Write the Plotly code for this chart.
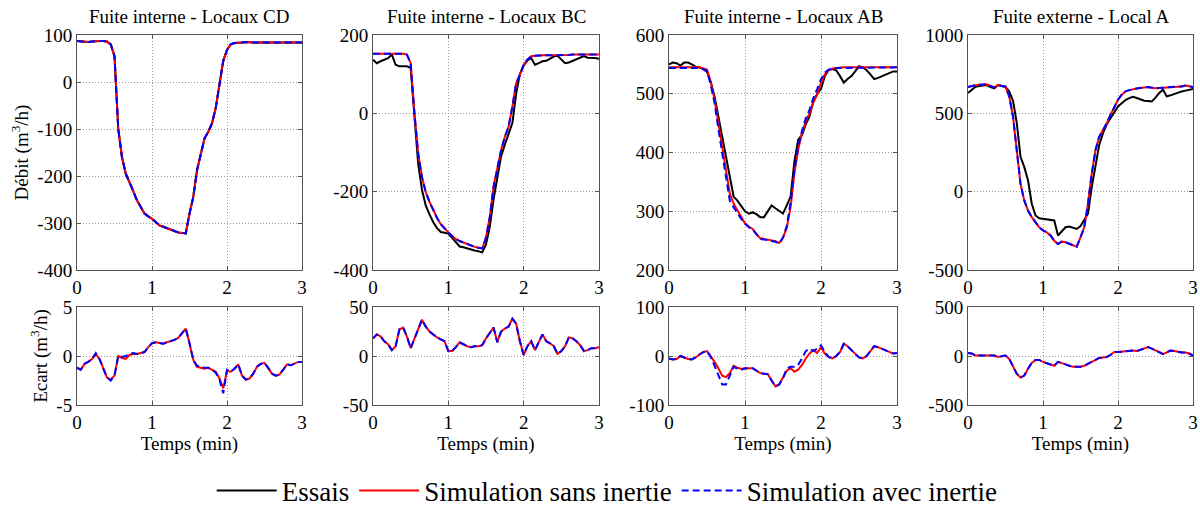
import plotly.graph_objects as go

# temps (min), pas de 0.05
temps = [0.0, 0.05, 0.1, 0.15, 0.2, 0.25, 0.3, 0.35, 0.4, 0.45, 0.5, 0.55, 0.6, 0.65, 0.7, 0.75,
         0.8, 0.85, 0.9, 0.95, 1.0, 1.05, 1.1, 1.15, 1.2, 1.25, 1.3, 1.35, 1.4, 1.45, 1.5, 1.55,
         1.6, 1.65, 1.7, 1.75, 1.8, 1.85, 1.9, 1.95, 2.0, 2.05, 2.1, 2.15, 2.2, 2.25, 2.3, 2.35,
         2.4, 2.45, 2.5, 2.55, 2.6, 2.65, 2.7, 2.75, 2.8, 2.85, 2.9, 2.95, 3.0]

## Fuite interne - Locaux CD (essais et simulations confondus)
cd_essais = [87, 86, 85, 85, 86, 87, 87, 87, 86, 80, 55, -100, -160, -195, -212, -232,
             -252, -266, -280, -286, -291, -298, -305, -308, -311, -314, -318, -320, -321, -322, -280, -245,
             -188, -152, -120, -106, -88, -55, -5, 45, 68, 80, 83, 83, 84, 85, 84, 84,
             84, 84, 85, 84, 84, 85, 85, 85, 85, 84, 84, 84, 84]
cd_sans = cd_essais
cd_avec = cd_essais

## Fuite interne - Locaux BC
bc_essais = [137, 128, 133, 137, 141, 150, 124, 120, 120, 120, 116, -10, -130, -195, -235, -258,
             -278, -293, -303, -305, -307, -318, -330, -340, -342, -345, -347, -350, -352, -355, -335, -290,
             -220, -160, -110, -80, -55, -25, 50, 100, 122, 135, 141, 124, 128, 133, 134, 140,
             145, 147, 138, 128, 130, 134, 137, 142, 146, 142, 142, 141, 139]
bc_sans = [152, 152, 152, 152, 152, 153, 153, 152, 152, 150, 128, 0, -103, -163, -201, -226,
           -248, -267, -283, -295, -304, -313, -321, -326, -330, -334, -338, -341, -343, -345, -317, -265,
           -188, -137, -94, -60, -34, 17, 77, 98, 124, 137, 146, 147, 148, 148, 148, 148,
           149, 149, 149, 149, 149, 150, 150, 150, 150, 150, 150, 150, 150]
bc_avec = bc_sans

## Fuite interne - Locaux AB
ab_essais = [550, 553, 552, 548, 553, 553, 550, 546, 545, 542, 537, 520, 495, 460, 430, 395,
             360, 325, 318, 308, 300, 296, 298, 295, 290, 290, 300, 310, 305, 300, 296, 310,
             325, 385, 422, 430, 448, 462, 488, 500, 508, 530, 540, 542, 540, 530, 519, 525,
             530, 538, 547, 545, 540, 533, 525, 527, 530, 533, 535, 538, 538]
ab_sans = [545, 545, 545, 545, 546, 546, 546, 545, 545, 543, 541, 519, 490, 450, 410, 365,
           330, 313, 302, 290, 279, 274, 270, 261, 254, 253, 252, 251, 249, 246, 255, 272,
           307, 365, 405, 433, 453, 467, 485, 499, 519, 533, 540, 543, 544, 545, 545, 545,
           545, 545, 545, 545, 545, 545, 545, 545, 545, 545, 545, 545, 545]
ab_avec = [544, 544, 544, 545, 545, 545, 545, 544, 544, 542, 539, 515, 484, 440, 398, 353,
           318, 307, 296, 287, 279, 273, 269, 261, 253, 252, 251, 250, 248, 245, 255, 275,
           315, 370, 410, 437, 458, 473, 493, 508, 525, 536, 541, 543, 544, 544, 544, 544,
           544, 544, 544, 544, 544, 544, 545, 545, 545, 545, 545, 545, 545]

## Fuite externe - Local A
a_essais = [630, 650, 670, 675, 678, 680, 668, 660, 680, 675, 668, 640, 580, 440, 223, 158,
            73, -77, -152, -170, -173, -178, -180, -184, -280, -250, -227, -222, -232, -238, -220, -184,
            -141, 30, 180, 300, 373, 430, 469, 505, 544, 565, 585, 597, 605, 598, 587, 580,
            578, 576, 600, 630, 651, 608, 615, 625, 632, 640, 645, 650, 655]
a_sans = [668, 675, 680, 682, 683, 685, 675, 665, 680, 675, 670, 608, 480, 266, 51, -56,
          -120, -163, -195, -227, -248, -259, -280, -313, -334, -319, -323, -334, -345, -351, -291, -227,
          -77, 116, 266, 351, 394, 437, 490, 544, 587, 619, 640, 648, 655, 659, 662, 665,
          668, 664, 660, 662, 664, 666, 667, 668, 668, 672, 677, 672, 668]
a_avec = a_sans

## Ecarts
cd_ecart_sans = [-1.2, -1.4, -0.8, -0.6, -0.3, 0.2, -0.3, -1.2, -2.2, -2.4, -2.0, 0.0, -0.2, -0.3, 0.1, 0.2,
                 0.2, 0.3, 0.4, 0.9, 1.3, 1.4, 1.35, 1.25, 1.4, 1.5, 1.65, 1.85, 2.3, 2.8, 1.3, -0.4,
                 -1.1, -1.2, -1.3, -1.2, -1.4, -1.6, -2.3, -3.3, -1.5, -1.6, -1.3, -0.85, -2.0, -2.4, -2.3, -1.8,
                 -1.1, -0.8, -0.7, -1.2, -1.8, -2.0, -1.9, -1.4, -0.85, -0.95, -0.8, -0.6, -0.6]
cd_ecart_avec = [-1.2, -1.4, -0.8, -0.6, -0.3, 0.3, -0.3, -1.2, -2.2, -2.5, -2.0, 0.0, -0.1, 0.0, 0.2, 0.3,
                 0.2, 0.3, 0.4, 0.9, 1.3, 1.4, 1.35, 1.25, 1.4, 1.5, 1.65, 1.85, 2.3, 2.8, 1.3, -0.4,
                 -1.0, -1.1, -1.2, -1.2, -1.4, -1.7, -2.4, -3.8, -1.4, -1.6, -1.3, -0.85, -2.0, -2.4, -2.3, -1.8,
                 -1.1, -0.8, -0.7, -1.2, -1.8, -2.0, -1.9, -1.4, -0.85, -0.95, -0.8, -0.6, -0.6]
bc_ecart = [18, 22, 20, 15, 12, 6, 10, 27, 29, 20, 8, 18, 28, 37, 30, 25,
            22, 19, 17, 15, 5, 5, 9, 14, 12, 10, 9, 10, 10, 11, 18, 24,
            29, 14, 25, 28, 30, 38, 33, 15, 1, 10, 15, 6, 14, 22, 15, 13,
            10, 2, 5, 10, 19, 18, 15, 11, 5, 6, 8, 8, 9]
ab_ecart_sans = [-5, -7, -6, 0, -3, -6, -7, -3, 3, 8, 10, 0, -12, -25, -40, -43,
                 -35, -20, -24, -26, -25, -25, -25, -30, -35, -36, -37, -50, -62, -58, -45, -30,
                 -25, -32, -28, -18, -5, 5, 12, 6, 18, 5, -2, -5, 0, 8, 25, 20,
                 12, 5, -3, -5, 0, 10, 20, 18, 15, 12, 8, 5, 6]
ab_ecart_avec = [-5, -7, -6, 0, -3, -6, -7, -3, 3, 8, 10, -2, -20, -40, -58, -58,
                 -40, -22, -26, -28, -25, -25, -25, -30, -35, -36, -37, -50, -62, -58, -45, -25,
                 -22, -22, -18, -5, 10, 15, 10, 15, 22, 8, -2, -5, 0, 8, 25, 20,
                 12, 5, -3, -5, 0, 10, 20, 18, 15, 12, 8, 5, 6]
a_ecart = [30, 25, 5, 5, 5, 10, 10, 5, -10, 0, 5, -30, -100, -180, -220, -200,
           -130, -70, -40, -40, -60, -75, -85, -100, -60, -70, -85, -100, -110, -110, -110, -100,
           -80, -60, -45, -20, -15, -10, 10, 40, 40, 45, 50, 55, 55, 50, 65, 80,
           90, 75, 60, 40, 20, 40, 55, 50, 40, 35, 35, 25, 5]

titres = ['Fuite interne - Locaux CD', 'Fuite interne - Locaux BC',
          'Fuite interne - Locaux AB', 'Fuite externe - Local A']

# graduations (tirets ASCII comme dans la figure d'origine)
x_ticks = [0, 1, 2, 3]
ticks_haut = [[-400, -300, -200, -100, 0, 100],
              [-400, -200, 0, 200],
              [200, 300, 400, 500, 600],
              [-500, 0, 500, 1000]]
ticks_bas = [[-5, 0, 5], [-50, 0, 50], [-100, 0, 100], [-500, 0, 500]]

haut = [(cd_essais, cd_sans, cd_avec), (bc_essais, bc_sans, bc_avec),
        (ab_essais, ab_sans, ab_avec), (a_essais, a_sans, a_avec)]
bas = [(cd_ecart_sans, cd_ecart_avec), (bc_ecart, bc_ecart),
       (ab_ecart_sans, ab_ecart_avec), (a_ecart, a_ecart)]

W, H = 1200, 506
cols_px = [(77, 302), (373, 599), (669, 897), (968, 1193)]
haut_px = (35, 270)
bas_px = (307, 405)

police = 'Liberation Serif'
tirets = '7px,4px'
fig = go.Figure()

for i in range(4):
    sfx = '' if i == 0 else str(i + 1)
    xa, ya = 'x' + sfx, 'y' + sfx
    xb, yb = 'x' + str(i + 5), 'y' + str(i + 5)
    ess, sans, avec = haut[i]
    fig.add_trace(go.Scatter(x=temps, y=ess, mode='lines', line=dict(color='black', width=2),
                             name='Essais', showlegend=(i == 0), xaxis=xa, yaxis=ya))
    fig.add_trace(go.Scatter(x=temps, y=sans, mode='lines', line=dict(color='red', width=2),
                             name='Simulation sans inertie', showlegend=(i == 0), xaxis=xa, yaxis=ya))
    fig.add_trace(go.Scatter(x=temps, y=avec, mode='lines', line=dict(color='blue', width=2, dash=tirets),
                             name='Simulation avec inertie', showlegend=(i == 0), xaxis=xa, yaxis=ya))
    es, ea = bas[i]
    fig.add_trace(go.Scatter(x=temps, y=es, mode='lines', line=dict(color='red', width=2),
                             showlegend=False, xaxis=xb, yaxis=yb))
    fig.add_trace(go.Scatter(x=temps, y=ea, mode='lines', line=dict(color='blue', width=2, dash=tirets),
                             showlegend=False, xaxis=xb, yaxis=yb))

    dom_x = [cols_px[i][0] / W, cols_px[i][1] / W]
    axe = dict(showline=True, mirror='ticks', linecolor='#555', linewidth=1,
               showgrid=True, gridcolor='#9a9a9a', griddash='1px,2px', gridwidth=1,
               zeroline=False, ticks='inside', ticklen=4, tickcolor='#555', automargin=False,
               tickfont=dict(family=police, size=19, color='black'))
    xt = dict(tickvals=x_ticks, ticktext=[str(v) for v in x_ticks])
    th, tb = ticks_haut[i], ticks_bas[i]
    fig.layout['xaxis' + sfx] = dict(axe, **xt, domain=dom_x, range=[0, 3], anchor=ya)
    fig.layout['yaxis' + sfx] = dict(axe, domain=[1 - haut_px[1] / H, 1 - haut_px[0] / H],
                                     range=[th[0], th[-1]], tickvals=th,
                                     ticktext=[str(v) for v in th], anchor=xa)
    fig.layout['xaxis' + str(i + 5)] = dict(axe, **xt, domain=dom_x, range=[0, 3], anchor=yb,
                                            title=dict(text='Temps (min)', standoff=1,
                                                       font=dict(family=police, size=19, color='black')))
    fig.layout['yaxis' + str(i + 5)] = dict(axe, domain=[1 - bas_px[1] / H, 1 - bas_px[0] / H],
                                            range=[tb[0], tb[-1]], tickvals=tb,
                                            ticktext=[str(v) for v in tb], anchor=xb)
    fig.add_annotation(text=titres[i], x=(dom_x[0] + dom_x[1]) / 2, y=1 - 16 / H,
                       xref='paper', yref='paper', xanchor='center', yanchor='middle',
                       showarrow=False, font=dict(family=police, size=19, color='black'))

fig.layout.yaxis.title = dict(text='Débit (m<sup>3</sup>/h)', standoff=3,
                              font=dict(family=police, size=19, color='black'))
fig.layout.yaxis5.title = dict(text='Ecart (m<sup>3</sup>/h)', standoff=3,
                               font=dict(family=police, size=19, color='black'))

fig.update_layout(
    width=W, height=H,
    margin=dict(l=0, r=0, t=0, b=0, autoexpand=False),
    font=dict(family=police, color='black'),
    paper_bgcolor='white', plot_bgcolor='white',
    legend=dict(orientation='h', x=0.506, xanchor='center', y=1 - 491 / H, yanchor='middle',
                font=dict(family=police, size=27, color='black'),
                itemwidth=60, tracegroupgap=0),
)

# pas de marge autour du graphique dans la page, pas de barre d'outils
fig.write_html("out.html", config={'displayModeBar': False},
               post_script="document.body.style.margin='0';")
